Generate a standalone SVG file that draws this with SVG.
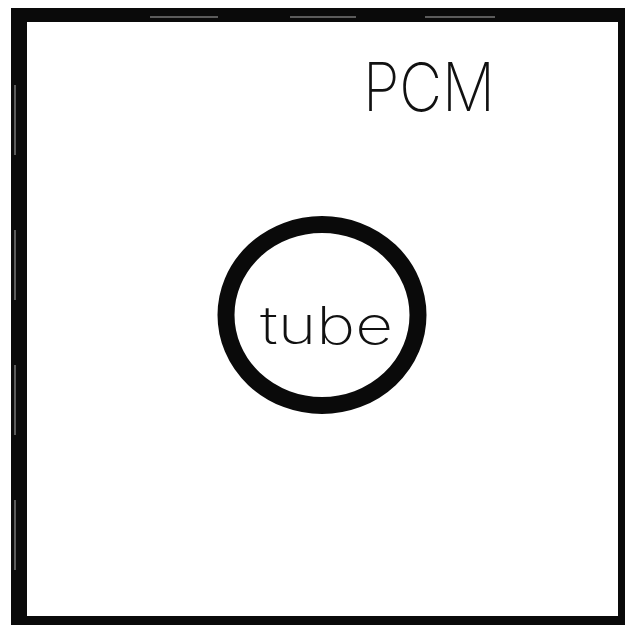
<svg xmlns="http://www.w3.org/2000/svg" width="625" height="625" viewBox="0 0 625 625">
<style>
.frame{fill:#0a0a0a}
.mark{stroke:#777;stroke-width:1.5}
.lbl{font-family:Inter,"Open Sans","Liberation Sans",sans-serif;font-weight:200;fill:#111}
</style>
<rect width="625" height="625" fill="#fff"/>
<g id="pcm">
<path class="frame" fill-rule="evenodd" d="M11 8 H625 V625 H11 Z M27 22 V616 H618 V22 Z"/>
<line class="mark" x1="150" y1="17" x2="218" y2="17"/>
<line class="mark" x1="290" y1="17" x2="356" y2="17"/>
<line class="mark" x1="425" y1="17" x2="495" y2="17"/>
<line class="mark" x1="15" y1="85" x2="15" y2="155"/>
<line class="mark" x1="15" y1="230" x2="15" y2="300"/>
<line class="mark" x1="15" y1="365" x2="15" y2="435"/>
<line class="mark" x1="15" y1="500" x2="15" y2="570"/>
<text class="lbl" x="363" y="111" font-size="67" textLength="132" lengthAdjust="spacingAndGlyphs">PCM</text>
</g>
<g id="tube">
<ellipse cx="322" cy="315" rx="96" ry="90.5" fill="none" stroke="#0a0a0a" stroke-width="17"/>
<text class="lbl" x="260" y="344" font-size="52" textLength="133" lengthAdjust="spacingAndGlyphs">tube</text>
</g>
<g id="connectors"/>
</svg>
